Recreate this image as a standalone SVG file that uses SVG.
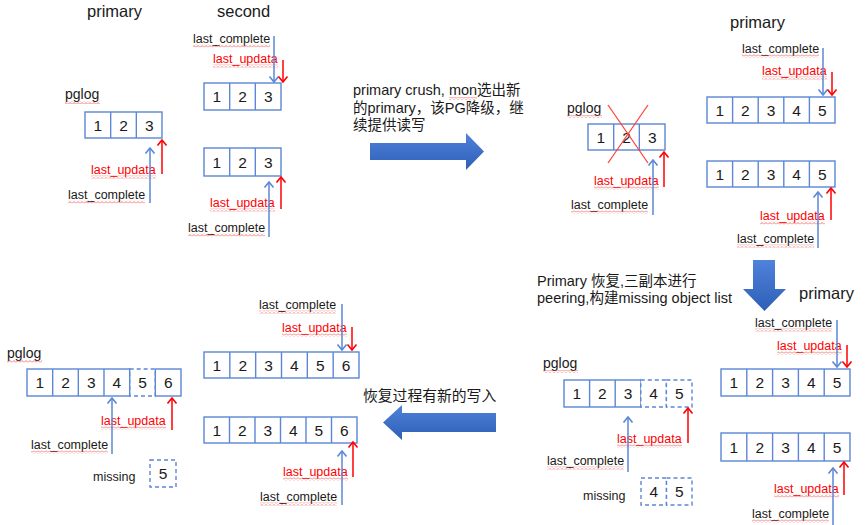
<svg xmlns="http://www.w3.org/2000/svg" width="865" height="525" viewBox="0 0 865 525">
<defs>
<style>
text{font-family:"Liberation Sans",Arial,"Noto Sans CJK SC",sans-serif;fill:#1a1a1a}
.ttl{font-size:16.5px}
.pg{font-size:14px}
.num{font-size:15.5px;text-anchor:middle}
.lbl{font-size:12.5px}
.lu{fill:#ff0000}
.cap{font-size:14.5px}
.bx{fill:#fff;stroke:#5b87d6;stroke-width:1.4}
.dv{stroke:#5b87d6;stroke-width:1.4}
.db{fill:#fff;stroke:#5b87d6;stroke-width:1.4;stroke-dasharray:4 3}
.ab{stroke:#5b87d6;stroke-width:1.5;fill:none;marker-end:url(#mb)}
.ar{stroke:#ff0000;stroke-width:1.5;fill:none;marker-end:url(#mr)}
.sq{fill:url(#sq)}
.big{fill:url(#g)}
</style>
<marker id="mb" viewBox="-7 -6 8 12" refX="0" refY="0" markerWidth="8" markerHeight="12" markerUnits="userSpaceOnUse" orient="auto"><path d="M-5.5,-4.5 L0,0 L-5.5,4.5" fill="none" stroke="#5b87d6" stroke-width="1.6"/></marker>
<marker id="mr" viewBox="-7 -6 8 12" refX="0" refY="0" markerWidth="8" markerHeight="12" markerUnits="userSpaceOnUse" orient="auto"><path d="M-5.5,-4.5 L0,0 L-5.5,4.5" fill="none" stroke="#ff0000" stroke-width="1.6"/></marker>
<pattern id="sq" width="4" height="3" patternUnits="userSpaceOnUse"><path d="M0,2.5 L2,0.5 L4,2.5" fill="none" stroke="#e8554e" stroke-width="0.8"/></pattern>
<linearGradient id="g" x1="0" y1="0" x2="0" y2="1"><stop offset="0" stop-color="#4f82db"/><stop offset="1" stop-color="#2e5fb6"/></linearGradient>
</defs>

<!-- Panel 1: initial state -->
<g id="p1-titles">
<text class="ttl" x="87" y="17">primary</text>
<text class="ttl" x="217" y="17">second</text>
</g>
<g id="p1-primary">
<text class="pg" x="65" y="99">pglog</text><rect class="sq" x="65" y="101" width="35" height="3"/>
<rect class="bx" x="85" y="112" width="77" height="26"/>
<line class="dv" x1="110.67" y1="112" x2="110.67" y2="138"/><line class="dv" x1="136.33" y1="112" x2="136.33" y2="138"/>
<text class="num" x="97.8" y="130.5">1</text><text class="num" x="123.5" y="130.5">2</text><text class="num" x="149.2" y="130.5">3</text>
<text class="lbl lu" x="91" y="174">last_updata</text><rect class="sq" x="91" y="175.5" width="65" height="3"/>
<text class="lbl" x="68" y="199">last_complete</text><rect class="sq" x="68" y="200.5" width="77" height="3"/>
</g>
<g id="p1-second-a">
<text class="lbl" x="193" y="43">last_complete</text><rect class="sq" x="193" y="44.5" width="77" height="3"/>
<text class="lbl lu" x="213" y="63">last_updata</text><rect class="sq" x="213" y="64.5" width="65" height="3"/>
<rect class="bx" x="204" y="83" width="77" height="27"/>
<line class="dv" x1="229.67" y1="83" x2="229.67" y2="110"/><line class="dv" x1="255.33" y1="83" x2="255.33" y2="110"/>
<text class="num" x="216.8" y="102">1</text><text class="num" x="242.5" y="102">2</text><text class="num" x="268.2" y="102">3</text>
</g>
<g id="p1-second-b">
<rect class="bx" x="204" y="148" width="77" height="28"/>
<line class="dv" x1="229.67" y1="148" x2="229.67" y2="176"/><line class="dv" x1="255.33" y1="148" x2="255.33" y2="176"/>
<text class="num" x="216.8" y="167.5">1</text><text class="num" x="242.5" y="167.5">2</text><text class="num" x="268.2" y="167.5">3</text>
<text class="lbl lu" x="210" y="207">last_updata</text><rect class="sq" x="210" y="208.5" width="65" height="3"/>
<text class="lbl" x="188" y="232">last_complete</text><rect class="sq" x="188" y="233.5" width="77" height="3"/>
</g>

<!-- Step 1 arrow -->
<g id="step1">
<text class="cap" x="353" y="95">primary crush, mon选出新</text><rect class="sq" x="449" y="97" width="28" height="3"/>
<text class="cap" x="353" y="113">的primary，该PG降级，继</text>
<text class="cap" x="353" y="130">续提供读写</text>
<path class="big" d="M370,143 L466,143 L466,133 L484,151.5 L466,170 L466,160 L370,160 Z"/>
</g>

<!-- Panel 2 -->
<g id="p2-old-primary">
<text class="pg" x="567" y="113">pglog</text><rect class="sq" x="567" y="115" width="35" height="3"/>
<rect class="bx" x="588" y="124" width="77" height="26"/>
<line class="dv" x1="613.67" y1="124" x2="613.67" y2="150"/><line class="dv" x1="639.33" y1="124" x2="639.33" y2="150"/>
<text class="num" x="600.8" y="142.5">1</text><text class="num" x="626.5" y="142.5">2</text><text class="num" x="652.2" y="142.5">3</text>
<line x1="608" y1="105" x2="648" y2="163" stroke="#ff3b30" stroke-width="1.2"/>
<line x1="648" y1="105" x2="608" y2="163" stroke="#ff3b30" stroke-width="1.2"/>
<text class="lbl lu" x="594" y="185">last_updata</text><rect class="sq" x="594" y="186.5" width="65" height="3"/>
<text class="lbl" x="571" y="209">last_complete</text><rect class="sq" x="571" y="210.5" width="77" height="3"/>
</g>
<g id="p2-new-primary">
<text class="ttl" x="730" y="28">primary</text>
<text class="lbl" x="742" y="53">last_complete</text><rect class="sq" x="742" y="54.5" width="77" height="3"/>
<text class="lbl lu" x="762" y="75">last_updata</text><rect class="sq" x="762" y="76.5" width="65" height="3"/>
<rect class="bx" x="707" y="97" width="128" height="26"/>
<line class="dv" x1="732.6" y1="97" x2="732.6" y2="123"/><line class="dv" x1="758.2" y1="97" x2="758.2" y2="123"/><line class="dv" x1="783.8" y1="97" x2="783.8" y2="123"/><line class="dv" x1="809.4" y1="97" x2="809.4" y2="123"/>
<text class="num" x="719.8" y="115.5">1</text><text class="num" x="745.4" y="115.5">2</text><text class="num" x="771" y="115.5">3</text><text class="num" x="796.6" y="115.5">4</text><text class="num" x="822.2" y="115.5">5</text>
</g>
<g id="p2-replica">
<rect class="bx" x="707" y="161" width="128" height="26"/>
<line class="dv" x1="732.6" y1="161" x2="732.6" y2="187"/><line class="dv" x1="758.2" y1="161" x2="758.2" y2="187"/><line class="dv" x1="783.8" y1="161" x2="783.8" y2="187"/><line class="dv" x1="809.4" y1="161" x2="809.4" y2="187"/>
<text class="num" x="719.8" y="179.5">1</text><text class="num" x="745.4" y="179.5">2</text><text class="num" x="771" y="179.5">3</text><text class="num" x="796.6" y="179.5">4</text><text class="num" x="822.2" y="179.5">5</text>
<text class="lbl lu" x="760" y="220">last_updata</text><rect class="sq" x="760" y="221.5" width="65" height="3"/>
<text class="lbl" x="737" y="243">last_complete</text><rect class="sq" x="737" y="244.5" width="77" height="3"/>
</g>

<!-- Step 2 arrow -->
<g id="step2">
<path class="big" d="M753,260 L775,260 L775,289 L786,289 L764.5,311 L743,289 L753,289 Z"/>
<text class="cap" x="537" y="286">Primary 恢复,三副本进行</text>
<text class="cap" x="537" y="303">peering,构建missing object list</text>
</g>

<!-- Panel 3 -->
<g id="p3-primary">
<text class="pg" x="543" y="368">pglog</text><rect class="sq" x="543" y="370" width="35" height="3"/>
<rect class="bx" x="564" y="380" width="76.8" height="27"/>
<line class="dv" x1="589.6" y1="380" x2="589.6" y2="407"/><line class="dv" x1="615.2" y1="380" x2="615.2" y2="407"/>
<rect class="db" x="640.8" y="380" width="25.6" height="27"/>
<rect class="db" x="666.4" y="380" width="25.6" height="27"/>
<text class="num" x="576.8" y="399">1</text><text class="num" x="602.4" y="399">2</text><text class="num" x="628" y="399">3</text><text class="num" x="653.6" y="399">4</text><text class="num" x="679.2" y="399">5</text>
<text class="lbl lu" x="617" y="443">last_updata</text><rect class="sq" x="617" y="444.5" width="65" height="3"/>
<text class="lbl" x="547" y="465">last_complete</text><rect class="sq" x="547" y="466.5" width="77" height="3"/>
<text class="lbl" x="583" y="500">missing</text>
<rect class="db" x="641" y="478" width="25.5" height="27"/>
<rect class="db" x="666.5" y="478" width="25.5" height="27"/>
<text class="num" x="653.75" y="497">4</text><text class="num" x="679.25" y="497">5</text>
</g>
<g id="p3-replica-a">
<text class="ttl" x="799" y="299">primary</text>
<text class="lbl" x="755" y="327">last_complete</text><rect class="sq" x="755" y="328.5" width="77" height="3"/>
<text class="lbl lu" x="777" y="350">last_updata</text><rect class="sq" x="777" y="351.5" width="65" height="3"/>
<rect class="bx" x="721" y="369" width="129" height="27"/>
<line class="dv" x1="746.8" y1="369" x2="746.8" y2="396"/><line class="dv" x1="772.6" y1="369" x2="772.6" y2="396"/><line class="dv" x1="798.4" y1="369" x2="798.4" y2="396"/><line class="dv" x1="824.2" y1="369" x2="824.2" y2="396"/>
<text class="num" x="733.9" y="388">1</text><text class="num" x="759.7" y="388">2</text><text class="num" x="785.5" y="388">3</text><text class="num" x="811.3" y="388">4</text><text class="num" x="837.1" y="388">5</text>
</g>
<g id="p3-replica-b">
<rect class="bx" x="721" y="433" width="129" height="28"/>
<line class="dv" x1="746.8" y1="433" x2="746.8" y2="461"/><line class="dv" x1="772.6" y1="433" x2="772.6" y2="461"/><line class="dv" x1="798.4" y1="433" x2="798.4" y2="461"/><line class="dv" x1="824.2" y1="433" x2="824.2" y2="461"/>
<text class="num" x="733.9" y="452.5">1</text><text class="num" x="759.7" y="452.5">2</text><text class="num" x="785.5" y="452.5">3</text><text class="num" x="811.3" y="452.5">4</text><text class="num" x="837.1" y="452.5">5</text>
<text class="lbl lu" x="774" y="493">last_updata</text><rect class="sq" x="774" y="494.5" width="65" height="3"/>
<text class="lbl" x="752" y="518">last_complete</text><rect class="sq" x="752" y="519.5" width="77" height="3"/>
</g>

<!-- Step 3 arrow -->
<g id="step3">
<text class="cap" x="363" y="401" style="font-size:14.8px">恢复过程有新的写入</text>
<path class="big" d="M496,413 L402,413 L402,405 L383,422.5 L402,440 L402,432 L496,432 Z"/>
</g>

<!-- Panel 4 -->
<g id="p4-primary">
<text class="pg" x="7" y="358">pglog</text><rect class="sq" x="7" y="360" width="35" height="3"/>
<rect class="db" x="129.67" y="369" width="25.66" height="27"/>
<rect class="bx" x="27" y="369" width="102.67" height="27"/>
<line class="dv" x1="52.67" y1="369" x2="52.67" y2="396"/><line class="dv" x1="78.33" y1="369" x2="78.33" y2="396"/><line class="dv" x1="104" y1="369" x2="104" y2="396"/>
<rect class="bx" x="155.33" y="369" width="25.67" height="27"/>
<text class="num" x="39.8" y="388">1</text><text class="num" x="65.5" y="388">2</text><text class="num" x="91.2" y="388">3</text><text class="num" x="116.8" y="388">4</text><text class="num" x="142.5" y="388">5</text><text class="num" x="168.2" y="388">6</text>
<text class="lbl lu" x="101" y="425">last_updata</text><rect class="sq" x="101" y="426.5" width="65" height="3"/>
<text class="lbl" x="31" y="449">last_complete</text><rect class="sq" x="31" y="450.5" width="77" height="3"/>
<text class="lbl" x="93" y="481">missing</text>
<rect class="db" x="150" y="460" width="26" height="27"/>
<text class="num" x="163" y="479">5</text>
</g>
<g id="p4-replica-a">
<text class="lbl" x="259" y="309">last_complete</text><rect class="sq" x="259" y="310.5" width="77" height="3"/>
<text class="lbl lu" x="282" y="332">last_updata</text><rect class="sq" x="282" y="333.5" width="65" height="3"/>
<rect class="bx" x="204" y="352" width="155" height="26"/>
<line class="dv" x1="229.83" y1="352" x2="229.83" y2="378"/><line class="dv" x1="255.67" y1="352" x2="255.67" y2="378"/><line class="dv" x1="281.5" y1="352" x2="281.5" y2="378"/><line class="dv" x1="307.33" y1="352" x2="307.33" y2="378"/><line class="dv" x1="333.17" y1="352" x2="333.17" y2="378"/>
<text class="num" x="216.9" y="370.5">1</text><text class="num" x="242.75" y="370.5">2</text><text class="num" x="268.6" y="370.5">3</text><text class="num" x="294.4" y="370.5">4</text><text class="num" x="320.25" y="370.5">5</text><text class="num" x="346.1" y="370.5">6</text>
</g>
<g id="p4-replica-b">
<rect class="bx" x="204" y="417" width="153" height="26"/>
<line class="dv" x1="229.5" y1="417" x2="229.5" y2="443"/><line class="dv" x1="255" y1="417" x2="255" y2="443"/><line class="dv" x1="280.5" y1="417" x2="280.5" y2="443"/><line class="dv" x1="306" y1="417" x2="306" y2="443"/><line class="dv" x1="331.5" y1="417" x2="331.5" y2="443"/>
<text class="num" x="216.75" y="435.5">1</text><text class="num" x="242.25" y="435.5">2</text><text class="num" x="267.75" y="435.5">3</text><text class="num" x="293.25" y="435.5">4</text><text class="num" x="318.75" y="435.5">5</text><text class="num" x="344.25" y="435.5">6</text>
<text class="lbl lu" x="283" y="476">last_updata</text><rect class="sq" x="283" y="477.5" width="65" height="3"/>
<text class="lbl" x="260" y="501">last_complete</text><rect class="sq" x="260" y="502.5" width="77" height="3"/>
</g>

<!-- Pointer connectors -->
<g id="connectors">
<line class="ab" x1="150" y1="203" x2="150" y2="148"/>
<line class="ar" x1="162" y1="174" x2="162" y2="140"/>
<line class="ab" x1="274" y1="36" x2="274" y2="82"/>
<line class="ar" x1="283" y1="60" x2="283" y2="82"/>
<line class="ab" x1="269" y1="237" x2="269" y2="182"/>
<line class="ar" x1="281" y1="209" x2="281" y2="177"/>
<line class="ab" x1="653" y1="215" x2="653" y2="160"/>
<line class="ar" x1="664" y1="187" x2="664" y2="152"/>
<line class="ab" x1="823" y1="48" x2="823" y2="95"/>
<line class="ar" x1="832" y1="72" x2="832" y2="95"/>
<line class="ab" x1="818" y1="248" x2="818" y2="192"/>
<line class="ar" x1="831" y1="220" x2="831" y2="188"/>
<line class="ab" x1="837" y1="320" x2="837" y2="367"/>
<line class="ar" x1="847" y1="345" x2="847" y2="367"/>
<line class="ab" x1="628" y1="472" x2="628" y2="417"/>
<line class="ar" x1="688" y1="443" x2="688" y2="408"/>
<line class="ab" x1="833" y1="527" x2="833" y2="468"/>
<line class="ar" x1="844" y1="495" x2="844" y2="462"/>
<line class="ab" x1="112" y1="454" x2="112" y2="398"/>
<line class="ar" x1="172" y1="430" x2="172" y2="398"/>
<line class="ab" x1="342" y1="304" x2="342" y2="350"/>
<line class="ar" x1="352" y1="327" x2="352" y2="350"/>
<line class="ab" x1="342" y1="505" x2="342" y2="451"/>
<line class="ar" x1="353" y1="477" x2="353" y2="442"/>
</g>
</svg>
